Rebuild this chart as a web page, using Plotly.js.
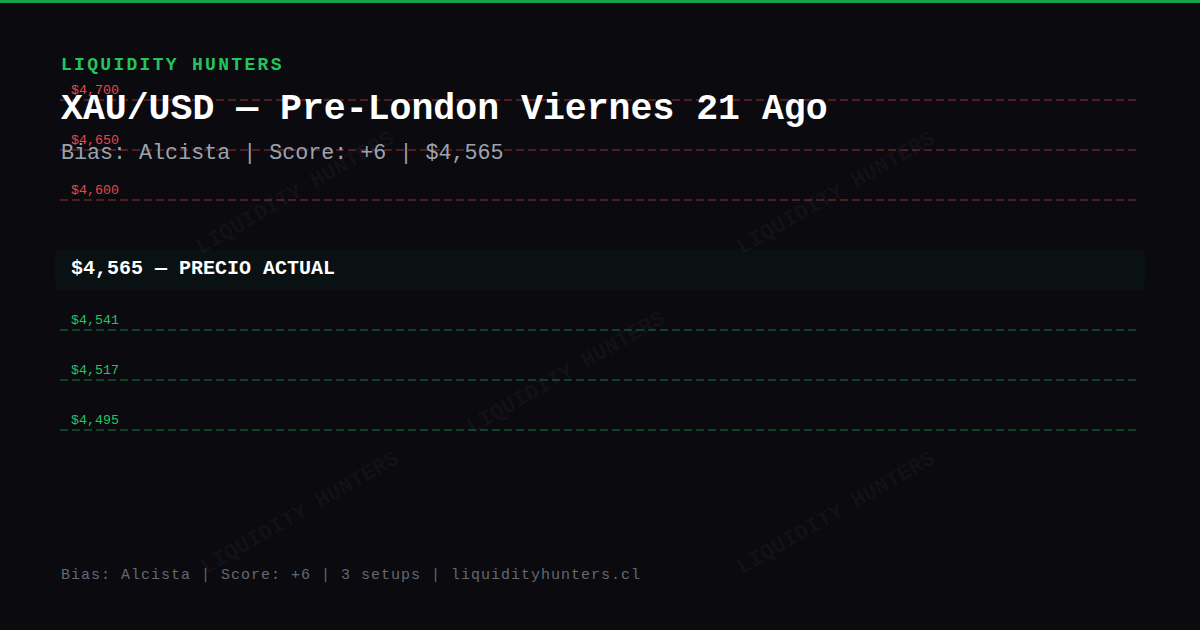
<!DOCTYPE html>
<html>
<head>
<meta charset="utf-8">
<script src="https://cdn.plot.ly/plotly-3.0.1.min.js"></script>
<style>
  html, body { margin: 0; padding: 0; background: #0a0a0f; }
  #chart { width: 1200px; height: 630px; }
</style>
</head>
<body>
<div id="chart"></div>
<script>
// datos del reporte
const brand = 'LIQUIDITY HUNTERS';
const pair = 'XAU/USD';
const session = 'Pre-London Viernes 21 Ago';
const bias = 'Alcista';
const score = '+6';
const setups = 3;
const site = 'liquidityhunters.cl';
const currentPrice = 4565;
const resistances = [4700, 4650, 4600];
const supports = [4541, 4517, 4495];

const W = 1200, H = 630;
const MONO = 'Liberation Mono, DejaVu Sans Mono, monospace';
const fmt = v => '$' + v.toLocaleString('en-US');
const px = x => x / W;
const py = y => 1 - y / H;

const resLabels = resistances.map(fmt);
const supLabels = supports.map(fmt);

function levelTrace(label, axis, color) {
  return {
    x: [0, 1],
    y: [label, label],
    yaxis: axis,
    mode: 'lines',
    line: { color: color, width: 2, dash: '8px,4px' },
    hoverinfo: 'skip',
    showlegend: false
  };
}

const traces = [
  ...resLabels.map(l => levelTrace(l, 'y', 'rgba(239,68,68,0.32)')),
  ...supLabels.map(l => levelTrace(l, 'y2', 'rgba(34,197,94,0.3)'))
];

function levelNote(label, yref, color) {
  return {
    xref: 'x', yref: yref, x: 0, y: label,
    xanchor: 'left', yanchor: 'middle', xshift: 10, yshift: 10,
    text: label, showarrow: false, borderpad: 0,
    font: { family: MONO, size: 13.3, color: color }
  };
}

function textNote(text, x, y, size, color, weight) {
  return {
    xref: 'paper', yref: 'paper', x: px(x), y: py(y),
    xanchor: 'left', yanchor: 'middle',
    text: text, showarrow: false, borderpad: 0,
    font: { family: MONO, size: size, color: color, weight: weight || 'normal' }
  };
}

const marks = [[295, 193], [836, 193], [566, 373], [300, 513], [836, 513]];
const watermarks = marks.map(([x, y]) => ({
  xref: 'paper', yref: 'paper', x: px(x), y: py(y),
  xanchor: 'center', yanchor: 'middle', textangle: -30,
  text: brand, showarrow: false,
  font: { family: MONO, size: 22, color: 'rgba(255,255,255,0.045)', weight: 'bold' }
}));

// caja precio actual con esquinas redondeadas
const bx0 = 55, bx1 = 1145, by0 = 250, by1 = 290, r = 6;
const boxPath = [
  `M${px(bx0 + r)},${py(by0)}`,
  `L${px(bx1 - r)},${py(by0)}`,
  `Q${px(bx1)},${py(by0)} ${px(bx1)},${py(by0 + r)}`,
  `L${px(bx1)},${py(by1 - r)}`,
  `Q${px(bx1)},${py(by1)} ${px(bx1 - r)},${py(by1)}`,
  `L${px(bx0 + r)},${py(by1)}`,
  `Q${px(bx0)},${py(by1)} ${px(bx0)},${py(by1 - r)}`,
  `L${px(bx0)},${py(by0 + r)}`,
  `Q${px(bx0)},${py(by0)} ${px(bx0 + r)},${py(by0)} Z`
].join(' ');

const footer = `Bias: ${bias} | Score: ${score} | ${setups} setups | ${site}`;

const annotations = [
  ...watermarks,
  ...resLabels.map(l => levelNote(l, 'y', '#ef4444')),
  ...supLabels.map(l => levelNote(l, 'y2', '#22c55e')),
  textNote(brand, 60, 65.5, 18, '#22c55e', 'bold'),
  textNote(`${pair} — ${session}`, 60, 109.5, 36.5, '#ffffff', 'bold'),
  textNote(`Bias: ${bias} | Score: ${score} | ${fmt(currentPrice)}`, 60, 153.5, 21.7, '#9ca3af'),
  textNote(`${fmt(currentPrice)} — PRECIO ACTUAL`, 70, 268.5, 20, '#ffffff', 'bold'),
  textNote(footer, 60, 575, 15, '#646873')
];

const hidden = { visible: false, showgrid: false, zeroline: false, fixedrange: true };

const layout = {
  width: W, height: H,
  margin: { t: 0, l: 0, r: 0, b: 0 },
  paper_bgcolor: '#0a0a0f',
  plot_bgcolor: 'rgba(0,0,0,0)',
  showlegend: false,
  xaxis: { ...hidden, domain: [px(60), px(1136)], range: [0, 1] },
  yaxis: { ...hidden, type: 'category', categoryarray: resLabels, range: [2.5, -0.5],
           domain: [py(225), py(75)] },
  yaxis2: { ...hidden, type: 'category', categoryarray: supLabels, range: [2.5, -0.5],
            domain: [py(455), py(305)] },
  shapes: [
    { type: 'rect', xref: 'paper', yref: 'paper', x0: 0, x1: 1, y0: py(3), y1: 1,
      fillcolor: '#16a34a', line: { width: 0 } },
    { type: 'path', xref: 'paper', yref: 'paper', path: boxPath, layer: 'below',
      fillcolor: 'rgba(34,197,94,0.045)', line: { width: 0 } }
  ],
  annotations: annotations
};

// plotly no tiene letter-spacing: se aplica al texto y se fija el borde izquierdo
function spaceOut(t, spacing) {
  const left = t.getBBox().x;
  t.style.letterSpacing = spacing;
  t.setAttribute('text-anchor', 'start');
  t.setAttribute('x', left);
}

Plotly.newPlot('chart', traces, layout, { staticPlot: true, displayModeBar: false }).then(gd => {
  gd.querySelectorAll('text.annotation-text').forEach(t => {
    if (t.textContent === brand && t.style.fontSize === '18px') spaceOut(t, '2.3px');
    if (t.textContent === footer) spaceOut(t, '1px');
  });
});
</script>
</body>
</html>
